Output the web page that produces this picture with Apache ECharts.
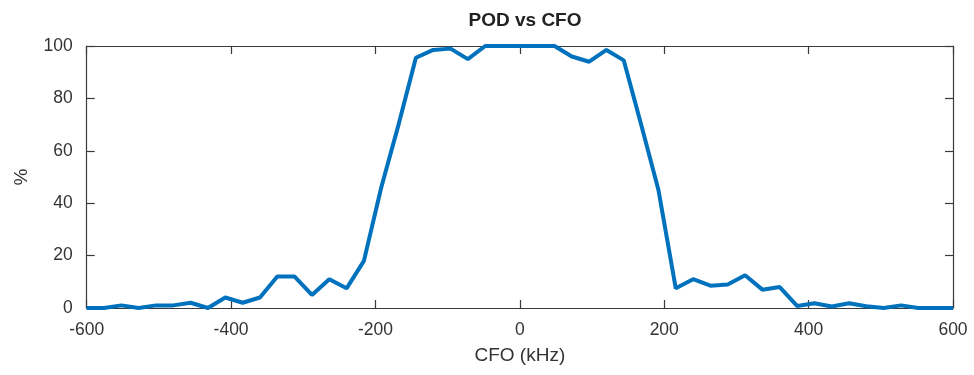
<!DOCTYPE html>
<html>
<head>
<meta charset="utf-8">
<script src="https://cdn.jsdelivr.net/npm/echarts@6/dist/echarts.min.js"></script>
<style>html,body{margin:0;padding:0;background:#fff;}#c{width:974px;height:375px;}</style>
</head>
<body>
<div id="c"></div>
<script>
const cfo = [-600,-576,-552,-528,-504,-480,-456,-432,-408,-384,-360,-336,-312,-288,-264,-240,-216,-192,-168,-144,-120,-96,-72,-48,-24,0,24,48,72,96,120,144,168,192,216,240,264,288,312,336,360,384,408,432,456,480,504,528,552,576,600];
const pod = [0,0,1,0,1,1,2,0,4,2,4,12,12,5,11,7.5,18,46,70,95.5,98.5,99,95,100,100,100,100,100,96,94,98.5,94.5,70,45,7.5,11,8.5,9,12.5,7,8,0.8,1.8,0.6,1.8,0.7,0,1,0,0,0];
const xTicks = [-600,-400,-200,0,200,400,600];
const yTicks = [0,20,40,60,80,100];
const titleText = 'POD vs CFO';
const xName = 'CFO (kHz)';
const yName = '%';

const data = cfo.map((x,i)=>[x,pod[i]]);
const font = 'Liberation Sans, Arial, sans-serif';
const axisCol = '#3a3a3a';
const labelCol = '#333';
const chart = echarts.init(document.getElementById('c'), null, {renderer:'canvas'});
const commonLine = {show:true, onZero:false, lineStyle:{color:axisCol, width:1.2}};
const tick = {show:true, inside:true, length:8, lineStyle:{color:axisCol, width:1.2}};
chart.setOption({
  animation:false,
  backgroundColor:'#fff',
  title:{text:titleText, left:520, top:6, textAlign:'center',
    textStyle:{fontFamily:font, fontWeight:'bold', fontSize:19, color:'#222'}},
  grid:{left:86.7, right:21, top:46, bottom:67, containLabel:false},
  xAxis:[
    {type:'value', min:xTicks[0], max:xTicks[xTicks.length-1], interval:200, position:'bottom',
     axisLine:commonLine, axisTick:tick, splitLine:{show:false},
     axisLabel:{margin:13, fontFamily:font, fontSize:17.5, color:labelCol},
     name:xName, nameLocation:'middle', nameGap:38,
     nameTextStyle:{fontFamily:font, fontSize:19, color:labelCol}},
    {type:'value', min:xTicks[0], max:xTicks[xTicks.length-1], interval:200, position:'top',
     axisLine:commonLine, axisTick:tick, axisLabel:{show:false}, splitLine:{show:false}}
  ],
  yAxis:[
    {type:'value', min:yTicks[0], max:yTicks[yTicks.length-1], interval:20, position:'left',
     axisLine:commonLine, axisTick:tick, splitLine:{show:false},
     axisLabel:{margin:14, fontFamily:font, fontSize:17.5, color:labelCol},
     name:yName, nameLocation:'middle', nameGap:55, nameRotate:90,
     nameTextStyle:{fontFamily:font, fontSize:19, color:labelCol}},
    {type:'value', min:yTicks[0], max:yTicks[yTicks.length-1], interval:20, position:'right',
     axisLine:commonLine, axisTick:tick, axisLabel:{show:false}, splitLine:{show:false}}
  ],
  series:[{
    type:'line', data:data, xAxisIndex:0, yAxisIndex:0,
    showSymbol:false, symbol:'none', clip:false, smooth:false,
    lineStyle:{color:'#0072BD', width:4}, z:5
  }]
});
</script>
</body>
</html>
